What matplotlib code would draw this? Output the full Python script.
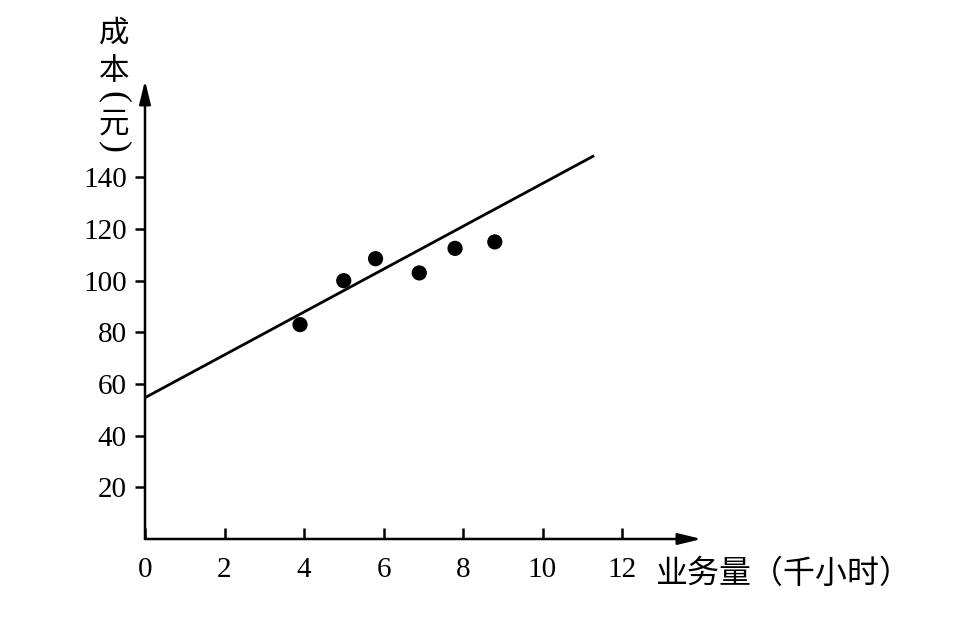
import matplotlib
matplotlib.use("Agg")
import matplotlib.pyplot as plt

# values
work_hours = [3.9, 5.0, 5.8, 6.9, 7.8, 8.8]       # 业务量（千小时）
cost = [83, 100, 108.5, 103, 112.5, 115]          # 成本(元)
fit_x = [0, 11.3]
fit_y = [54.7, 148.4]
x_ticks = [0, 2, 4, 6, 8, 10, 12]
y_ticks = [20, 40, 60, 80, 100, 120, 140]
y_chars = ["成", "本", "(", "元", ")"]
x_title = "业务量（千小时）"

W, H = 976, 631
fig = plt.figure(figsize=(W / 100, H / 100), dpi=100)
ax = fig.add_axes([145 / W, (H - 539) / H, 556.5 / W, 465 / H])
ax.set_xlim(0, 14)
ax.set_ylim(0, 180)
for s in ax.spines.values():
    s.set_visible(False)

arrow = dict(arrowstyle="-|>,head_length=0.7,head_width=0.17", color="black",
             lw=1.8, shrinkA=0, shrinkB=0, mutation_scale=20)
ax.annotate("", xy=(14, 0), xytext=(0, 0), arrowprops=arrow, annotation_clip=False)
ax.annotate("", xy=(0, 177.5), xytext=(0, 0), arrowprops=arrow, annotation_clip=False)

ax.plot(fit_x, fit_y, color="black", lw=2.0, solid_capstyle="butt")
ax.scatter(work_hours, cost, s=120, color="black", zorder=3, edgecolors="none")

serif = "Liberation Serif"
ax.set_xticks(x_ticks)
ax.set_xticklabels([str(t) for t in x_ticks], family=serif, fontsize=21)
ax.set_yticks(y_ticks)
ax.set_yticklabels([str(t) for t in y_ticks], family=serif, fontsize=21)
ax.tick_params(axis="x", direction="in", length=8, width=1.8, pad=13)
ax.tick_params(axis="y", direction="out", length=7, width=1.8, pad=6)

# vertical y title: brackets turned on their side, as in vertical text
cjk = ["Noto Sans CJK SC", "DejaVu Sans"]
ys = [33, 71, 97, 124, 147]
for ch, yp in zip(y_chars, ys):
    if ch in "()":
        fig.text(114 / W, 1 - yp / H, ch, family=serif, fontsize=26,
                 rotation=270, rotation_mode="anchor", ha="center", va="center")
    else:
        fig.text(114 / W, 1 - yp / H, ch, family=cjk, fontsize=22,
                 ha="center", va="center")
fig.text(655 / W, 1 - 574 / H, x_title, family=cjk, fontsize=23,
         ha="left", va="center")

fig.savefig("out.png", dpi=100)
